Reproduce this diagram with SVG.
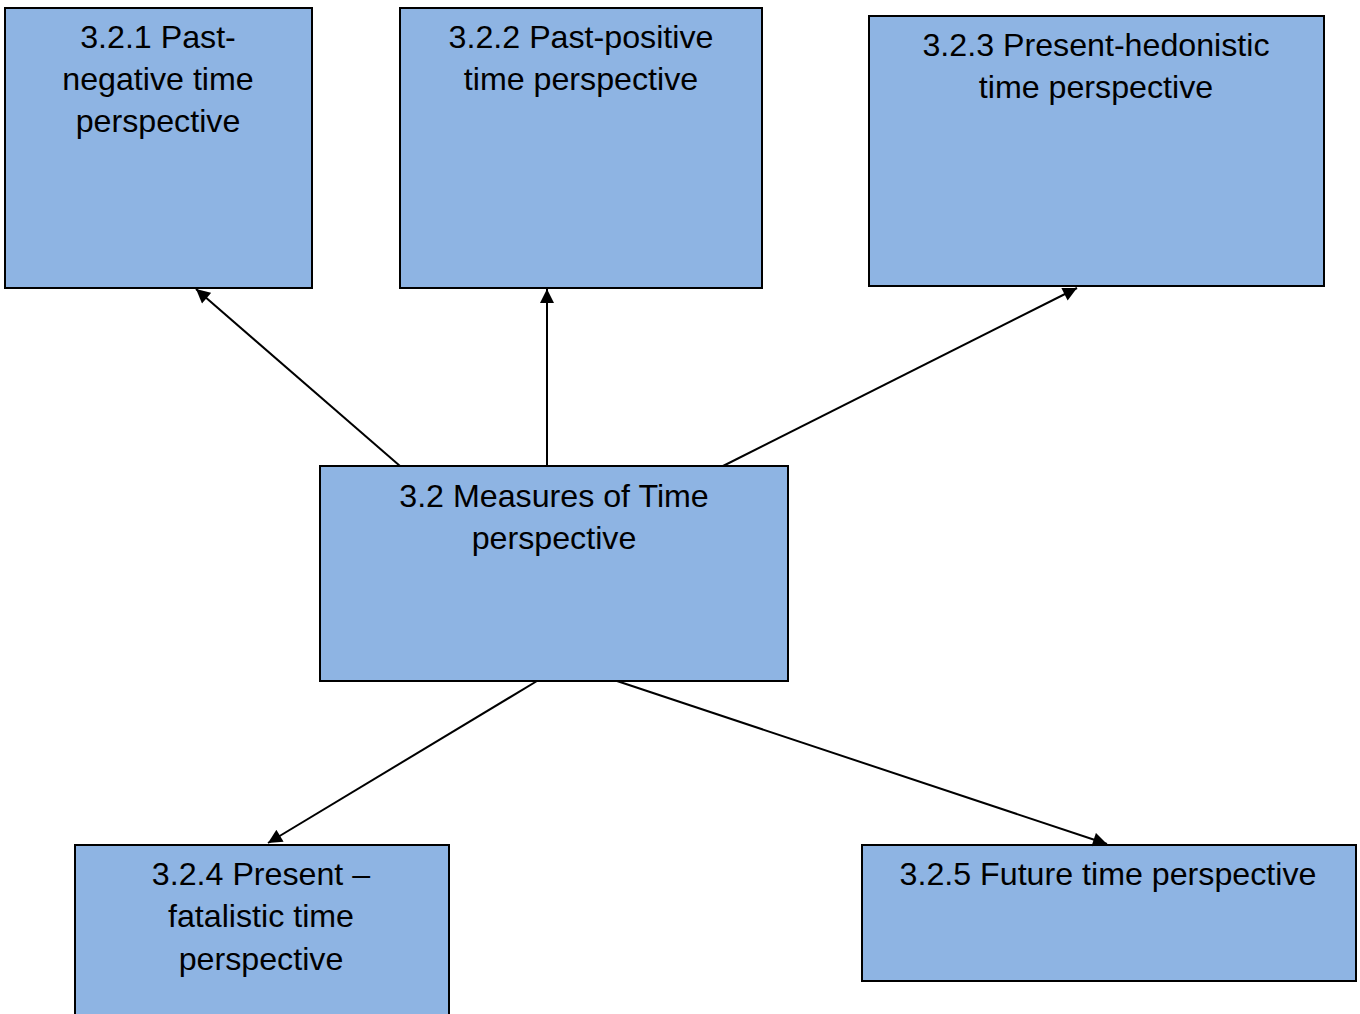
<svg xmlns="http://www.w3.org/2000/svg" width="1360" height="1014" viewBox="0 0 1360 1014">
  <style>
    .box { fill: #8EB4E3; stroke: #000; stroke-width: 2; }
    .lbl { font-family: "Liberation Sans", Arial, sans-serif; font-size: 32.2px; fill: #000; text-anchor: middle; }
    .conn { stroke: #000; stroke-width: 2; fill: none; marker-end: url(#arrow); }
  </style>
  <defs>
    <marker id="arrow" viewBox="0 0 10 10" refX="10" refY="5" markerWidth="7.5" markerHeight="7" orient="auto" markerUnits="strokeWidth">
      <path d="M0,0 L10,5 L0,10 z" fill="#000"/>
    </marker>
  </defs>
  <rect width="1360" height="1014" fill="#fff"/>

  <g id="node-past-negative">
    <rect class="box" x="5" y="8" width="307" height="280"/>
    <text class="lbl" x="158" y="48">3.2.1 Past-</text>
    <text class="lbl" x="158" y="90">negative time</text>
    <text class="lbl" x="158" y="132">perspective</text>
  </g>

  <g id="node-past-positive">
    <rect class="box" x="400" y="8" width="362" height="280"/>
    <text class="lbl" x="581" y="48">3.2.2 Past-positive</text>
    <text class="lbl" x="581" y="90">time perspective</text>
  </g>

  <g id="node-present-hedonistic">
    <rect class="box" x="869" y="16" width="455" height="270"/>
    <text class="lbl" x="1096" y="56">3.2.3 Present-hedonistic</text>
    <text class="lbl" x="1096" y="98">time perspective</text>
  </g>

  <g id="node-measures">
    <rect class="box" x="320" y="466" width="468" height="215"/>
    <text class="lbl" x="554" y="507">3.2 Measures of Time</text>
    <text class="lbl" x="554" y="549">perspective</text>
  </g>

  <g id="node-present-fatalistic">
    <rect class="box" x="75" y="845" width="374" height="180"/>
    <text class="lbl" x="261" y="885">3.2.4 Present –</text>
    <text class="lbl" x="261" y="927">fatalistic time</text>
    <text class="lbl" x="261" y="970">perspective</text>
  </g>

  <g id="node-future">
    <rect class="box" x="862" y="845" width="494" height="136"/>
    <text class="lbl" x="1108" y="885">3.2.5 Future time perspective</text>
  </g>

  <g id="connectors">
    <line class="conn" x1="400" y1="466" x2="196" y2="289"/>
    <line class="conn" x1="547" y1="466" x2="547" y2="289"/>
    <line class="conn" x1="723" y1="466" x2="1077" y2="288"/>
    <line class="conn" x1="537" y1="681" x2="268" y2="843"/>
    <line class="conn" x1="617" y1="681" x2="1107" y2="844"/>
  </g>
</svg>
